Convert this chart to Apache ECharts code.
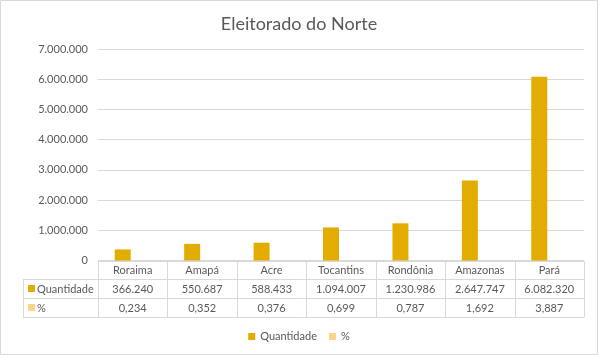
<!DOCTYPE html>
<html><head><meta charset="utf-8">
<script src="https://cdn.jsdelivr.net/npm/echarts@6/dist/echarts.min.js"></script>
<style>html,body{margin:0;padding:0;background:#fff}#c{width:598px;height:355px}</style>
</head><body><div id="c"></div>
<script>
var categories = ['Roraima','Amapá','Acre','Tocantins','Rondônia','Amazonas','Pará'];
var quantidade = [366240, 550687, 588433, 1094007, 1230986, 2647747, 6082320];
var percent = [0.234, 0.352, 0.376, 0.699, 0.787, 1.692, 3.887];
var seriesNames = ['Quantidade', '%'];
var colors = ['#E2AC00', '#FFD38A'];
var yTicks = [0, 1000000, 2000000, 3000000, 4000000, 5000000, 6000000, 7000000];

function fmtInt(v){ return String(Math.round(v)).replace(/\B(?=(\d{3})+(?!\d))/g, '.'); }
function fmtPct(v){ return v.toFixed(3).replace('.', ','); }

var FONT = 'Lato';
var TXT = '#595959';
var LINE = '#d9d9d9';

var chart = echarts.init(document.getElementById('c'), null, {renderer:'canvas'});
var option = {
  animation: false,
  title: { text: 'Eleitorado do Norte', left: 'center', top: 10,
    textStyle: { fontFamily: FONT, fontSize: 18, fontWeight: 'normal', color: TXT } },
  grid: { left: 98, right: 14, top: 49, bottom: 94.5, containLabel: false },
  legend: { bottom: 8, left: 'center', icon: 'rect', itemWidth: 7, itemHeight: 7, itemGap: 12,
    textStyle: { fontFamily: FONT, fontSize: 11, color: TXT }, data: seriesNames },
  xAxis: { type: 'category', data: categories, axisLine: { show: false }, axisTick: { show: false },
    axisLabel: { show: false } },
  yAxis: { type: 'value', min: yTicks[0], max: yTicks[yTicks.length-1], interval: 1000000,
    axisLine: { show: false }, axisTick: { show: false },
    splitLine: { lineStyle: { color: LINE, width: 1 } },
    axisLabel: { fontFamily: FONT, fontSize: 11, color: TXT, margin: 10, formatter: function(v){ return fmtInt(v); } } },
  series: [
    { name: seriesNames[0], type: 'bar', data: quantidade, barWidth: 16, barGap: '25%', itemStyle: { color: colors[0] } },
    { name: seriesNames[1], type: 'bar', data: percent, barWidth: 16, itemStyle: { color: colors[1] } }
  ]
};
chart.setOption(option);

// build data table under the plot from the axis scale
var c0 = chart.convertToPixel({xAxisIndex:0}, categories[0]);
var c1 = chart.convertToPixel({xAxisIndex:0}, categories[1]);
var bw = c1 - c0;
var y0 = chart.convertToPixel({yAxisIndex:0}, 0);
var plotLeft = c0 - bw/2;
var plotRight = plotLeft + bw * categories.length;
var tableLeft = 23;
var rowH = [18, 19, 19];
var rowsY = [y0, y0 + rowH[0], y0 + rowH[0] + rowH[1], y0 + rowH[0] + rowH[1] + rowH[2]];
var g = [];
function hline(x1, x2, y){ g.push({type:'line', shape:{x1:x1, y1:Math.round(y)+0.5, x2:x2, y2:Math.round(y)+0.5}, style:{stroke:LINE, lineWidth:1}, silent:true}); }
function vline(x, y1, y2){ g.push({type:'line', shape:{x1:Math.round(x)+0.5, y1:y1, x2:Math.round(x)+0.5, y2:y2}, style:{stroke:LINE, lineWidth:1}, silent:true}); }
function text(t, x, y, align){ g.push({type:'text', x:x, y:y, style:{text:t, fill:TXT, font:'11px ' + FONT, textAlign:align, textVerticalAlign:'middle'}, silent:true}); }

hline(plotLeft, plotRight, rowsY[0]);
hline(tableLeft, plotRight, rowsY[1]);
hline(tableLeft, plotRight, rowsY[2]);
hline(tableLeft, plotRight, rowsY[3]);
vline(tableLeft, Math.round(rowsY[1])+0.5, Math.round(rowsY[3])+0.5);
for (var i = 0; i <= categories.length; i++) {
  vline(plotLeft + i*bw, Math.round(rowsY[0])+0.5, Math.round(rowsY[3])+0.5);
}
for (var i = 0; i < categories.length; i++) {
  var cx = chart.convertToPixel({xAxisIndex:0}, categories[i]);
  text(categories[i], cx, (rowsY[0]+rowsY[1])/2 + 1, 'center');
  text(fmtInt(quantidade[i]), cx, (rowsY[1]+rowsY[2])/2 + 1, 'center');
  text(fmtPct(percent[i]), cx, (rowsY[2]+rowsY[3])/2 + 1, 'center');
}
var rowSeries = [[seriesNames[0], colors[0]], [seriesNames[1], colors[1]]];
for (var r = 0; r < 2; r++) {
  var cy = (rowsY[r+1] + rowsY[r+2]) / 2;
  g.push({type:'rect', shape:{x:28, y:Math.round(cy)-3, width:7, height:7}, style:{fill:rowSeries[r][1]}, silent:true});
  text(rowSeries[r][0], 37, cy + 1, 'left');
}
g.push({type:'rect', shape:{x:0.5, y:0.5, width:597, height:354}, style:{fill:'none', stroke:LINE, lineWidth:1}, silent:true});
chart.setOption({ graphic: g });
</script></body></html>
